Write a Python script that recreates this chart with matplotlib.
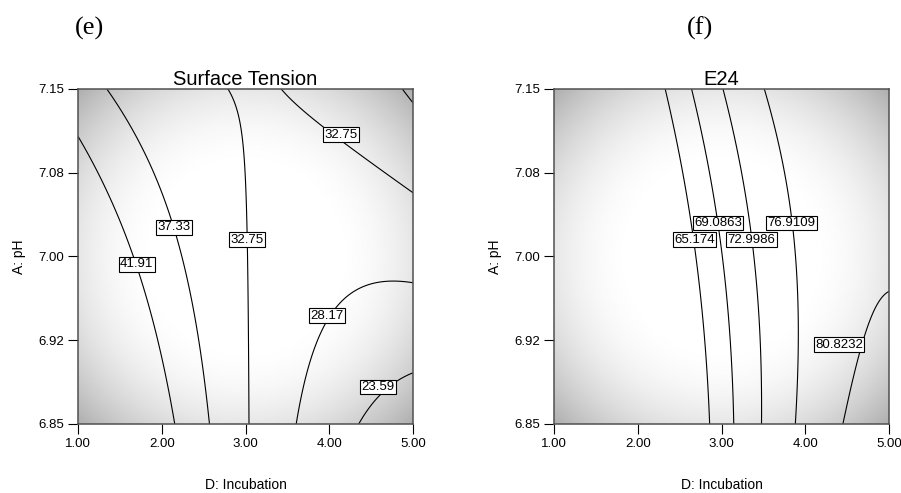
import matplotlib
matplotlib.use("Agg")
import matplotlib.pyplot as plt
import numpy as np

plt.rcParams['font.family'] = ['Liberation Sans', 'DejaVu Sans']

# axis ticks (D: incubation, A: pH)
x_ticks = [1.0, 2.0, 3.0, 4.0, 5.0]
x_ticklabels = ['1.00', '2.00', '3.00', '4.00', '5.00']
y_ticks = [6.85, 6.925, 7.0, 7.075, 7.15]
y_ticklabels = ['6.85', '6.92', '7.00', '7.08', '7.15']

# surface tension: points (D, pH)
st_levels = [23.59, 28.17, 32.75, 37.33, 41.91]
st_pts = {
    41.91: [(1.00, 7.103), (1.382, 7.060), (1.70, 6.992), (1.94, 6.922), (2.15, 6.85)],
    37.33: [(1.322, 7.15), (1.740, 7.104), (2.138, 7.027), (2.278, 6.997), (2.457, 6.922),
            (2.568, 6.85), (4.88, 7.15), (5.0, 7.137)],
    32.75: [(2.815, 7.15), (2.934, 7.128), (3.006, 7.069), (3.022, 7.013), (3.054, 6.85),
            (3.392, 7.15), (4.128, 7.109), (4.566, 7.078), (5.0, 7.057)],
    28.17: [(3.623, 6.85), (3.75, 6.914), (3.989, 6.956), (4.347, 6.971), (4.765, 6.976),
            (5.0, 6.976)],
    23.59: [(4.395, 6.85), (4.586, 6.883), (5.0, 6.892)],
}
# label boxes (level, D, pH)
st_labels = [(32.75, 4.138, 7.109), (37.33, 2.150, 7.026), (32.75, 3.014, 7.015),
             (41.91, 1.700, 6.993), (28.17, 3.969, 6.947), (23.59, 4.586, 6.883)]

# E24
e24_levels = [65.174, 69.0863, 72.9986, 76.9109, 80.8232]
e24_pts = {
    65.174: [(2.317, 7.15), (2.545, 7.0835), (2.704, 6.997), (2.782, 6.922), (2.866, 6.85)],
    69.0863: [(2.632, 7.15), (2.863, 7.0835), (3.015, 6.997), (3.082, 6.922), (3.153, 6.85)],
    72.9986: [(3.0, 7.15), (3.22, 7.0835), (3.388, 6.997), (3.44, 6.922), (3.488, 6.85)],
    76.9109: [(3.488, 7.15), (3.739, 7.098), (3.878, 6.997), (3.918, 6.922), (3.898, 6.85)],
    80.8232: [(5.0, 6.966), (4.773, 6.944), (4.634, 6.921), (4.455, 6.85)],
}
e24_labels = [(69.0863, 2.958, 7.030), (65.174, 2.674, 7.015), (72.9986, 3.358, 7.015),
              (76.9109, 3.838, 7.030), (80.8232, 4.405, 6.921)]


def quad_terms(d, a):
    # coded units
    d = (np.asarray(d) - 3.0) / 2.0
    a = (np.asarray(a) - 7.0) / 0.15
    return np.stack([np.ones_like(d), d, a, d * a, d * d, a * a], axis=-1)


def fit_surface(pts):
    rows, vals = [], []
    for lev, lst in pts.items():
        for d, a in lst:
            rows.append((d, a))
            vals.append(lev)
    rows = np.array(rows)
    X = quad_terms(rows[:, 0], rows[:, 1])
    coef, *_ = np.linalg.lstsq(X, np.array(vals), rcond=None)
    return coef


D = np.linspace(1, 5, 400)
A = np.linspace(6.85, 7.15, 400)
DD, AA = np.meshgrid(D, A)

# background shading (darker away from design centre)
dn = (DD - 3.0) / 2.0
an = (AA - 7.0) / 0.15
r = np.sqrt(dn ** 2 + an ** 2)
shade = 1 - 0.38 * np.clip(r - 0.5, 0, None) ** 2

fig = plt.figure(figsize=(9.01, 4.93), dpi=100)
ax1 = fig.add_axes([0.0866, 0.140, 0.3718, 0.6795])
ax2 = fig.add_axes([0.6149, 0.140, 0.3718, 0.6795])

panels = [(ax1, st_pts, st_levels, st_labels, 'Surface Tension', '%.2f'),
          (ax2, e24_pts, e24_levels, e24_labels, 'E24', None)]

for ax, pts, levels, labels, title, fmt in panels:
    coef = fit_surface(pts)
    Z = quad_terms(DD, AA) @ coef
    ax.imshow(shade, extent=(1, 5, 6.85, 7.15), origin='lower', cmap='gray',
              vmin=0, vmax=1, aspect='auto', interpolation='bilinear')
    ax.contour(DD, AA, Z, levels=levels, colors='black', linewidths=0.8)
    for lev, x, y in labels:
        txt = ('%.2f' % lev) if fmt else ('%g' % lev)
        ax.text(x, y, txt, ha='center', va='center', fontsize=9.5,
                bbox=dict(boxstyle='square,pad=0.1', fc='white', ec='black', lw=0.8))
    ax.set_xlim(1, 5)
    ax.set_ylim(6.85, 7.15)
    ax.set_xticks(x_ticks)
    ax.set_xticklabels(x_ticklabels)
    ax.set_yticks(y_ticks)
    ax.set_yticklabels(y_ticklabels)
    ax.tick_params(direction='out', length=7, width=0.8, labelsize=9.5, pad=3)
    for s in ax.spines.values():
        s.set_color('#505050')
        s.set_linewidth(1.1)
    ax.set_title(title, fontsize=14.5, pad=2)
    ax.set_xlabel('D: Incubation', fontsize=10, labelpad=20)
    ax.set_ylabel('A: pH', fontsize=10, labelpad=9)

fig.text(89 / 901, 1 - 28 / 493, '(e)', fontsize=19, family='Liberation Serif',
         ha='center', va='center')
fig.text(700 / 901, 1 - 28 / 493, '(f)', fontsize=19, family='Liberation Serif',
         ha='center', va='center')

fig.savefig('out.png', dpi=100)
